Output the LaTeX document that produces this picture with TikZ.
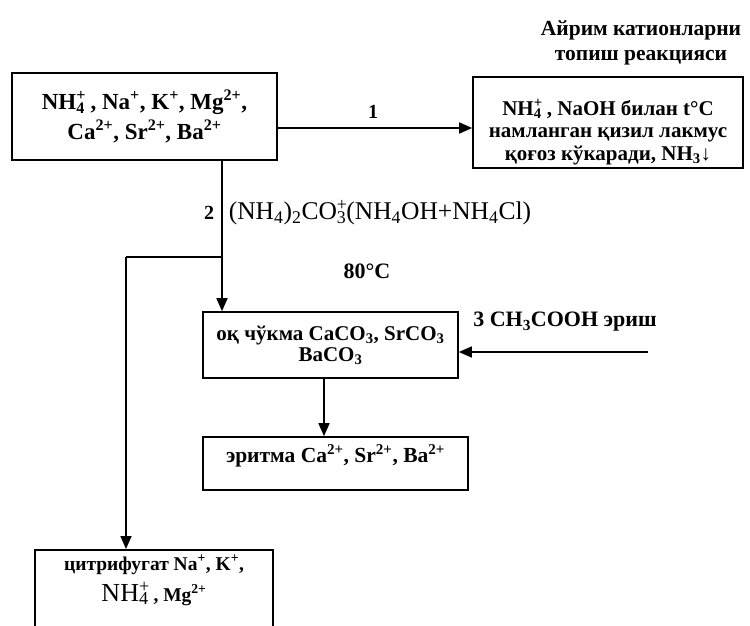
\documentclass[tikz,border=0pt]{standalone}
\usepackage{fontspec}
\setmainfont{Liberation Serif}
\usetikzlibrary{arrows.meta,positioning}
\newcommand\ionup[2]{\rlap{\textsuperscript{#2}}\textsubscript{#1}}

\begin{document}
\begin{tikzpicture}[x=1pt,y=-1pt,line width=1.6pt,
    box/.style={draw,line width=1.6pt,inner sep=0pt,align=center,
                font=\bfseries\fontsize{21}{22}\selectfont},
    flow/.style={-{Triangle[length=13pt,width=11pt]}},
    lbl/.style={inner sep=0pt,align=center,font=\bfseries\fontsize{21}{22}\selectfont}]
  \clip (0,0) rectangle (750,626);
  % title
  \node[lbl,font=\bfseries\fontsize{21.5}{25}\selectfont] (title) at (641,43)
    {Айрим катионларни\\топиш реакцияси};
  % boxes
  \node[box,minimum width=265,minimum height=87,
        font=\bfseries\fontsize{23}{30}\selectfont] (a) at (144.5,116.5)
    {NH\ionup4+ , Na\textsuperscript{+}, K\textsuperscript{+}, Mg\textsuperscript{2+},\\
     Ca\textsuperscript{2+}, Sr\textsuperscript{2+}, Ba\textsuperscript{2+}};
  \node[box,minimum width=270,minimum height=91,text height=80pt,
        font=\bfseries\fontsize{21}{22.5}\selectfont] (b) at (608,122.5)
    {NH\ionup4+ , NaOH билан t°C\\
     намланган қизил лакмус\\
     қоғоз кўкаради, NH\textsubscript{3}↓};
  \node[box,minimum width=255,minimum height=66,
        font=\bfseries\fontsize{21}{21}\selectfont] (c) at (330.5,345)
    {оқ чўкма CaCO\textsubscript{3}, SrCO\textsubscript{3}\\ BaCO\textsubscript{3}};
  \node[box,minimum width=265,minimum height=53,text depth=20pt,
        font=\bfseries\fontsize{21.5}{22}\selectfont] (e) at (335.5,463.5)
    {эритма Ca\textsuperscript{2+}, Sr\textsuperscript{2+}, Ba\textsuperscript{2+}};
  \node[box,anchor=north,minimum width=238,inner ysep=5pt,text depth=60pt,
        font=\bfseries\fontsize{19.5}{31}\selectfont] (d) at (154,549)
    {цитрифугат Na\textsuperscript{+}, K\textsuperscript{+},\\
     {\mdseries\fontsize{26}{31}\selectfont NH\ionup4+} , Mg\textsuperscript{2+}};
  % labels
  \node[lbl,font=\bfseries\fontsize{20}{22}\selectfont] (n1) at (373,112) {1};
  \node[lbl,font=\bfseries\fontsize{20}{22}\selectfont] (n2) at (209,213) {2};
  \node[lbl,font=\mdseries\fontsize{25.5}{27}\selectfont] (reag) at (380,213)
    {(NH\textsubscript{4})\textsubscript{2}CO\ionup3+(NH\textsubscript{4}OH+NH\textsubscript{4}Cl)};
  \node[lbl,font=\bfseries\fontsize{22}{24}\selectfont] (temp) at (367,271) {80°C};
  \node[lbl,font=\bfseries\fontsize{22}{24}\selectfont] (acid) at (565,322)
    {3 CH\textsubscript{3}COOH эриш};
  % connectors
  \coordinate (h1) at (0,128);
  \coordinate (v2) at (222,257);
  \coordinate (dl) at (126,257);
  \coordinate (v4) at (324,0);
  \coordinate (s3) at (648,352);
  \draw[flow] (a.east |- h1) -- (b.west |- h1);
  \draw[flow] (a.south -| v2) -- (c.north -| v2);
  \draw (v2) -- (dl);
  \draw[flow] (dl) -- (d.north -| dl);
  \draw[flow] (c.south -| v4) -- (e.north -| v4);
  \draw[flow] (s3) -- (s3 -| c.east);
\end{tikzpicture}
\end{document}
